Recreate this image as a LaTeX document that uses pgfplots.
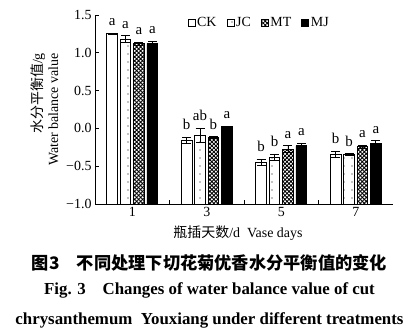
\documentclass[border=0pt]{standalone}
\usepackage{fontspec}
\setmainfont{Liberation Serif}
\newfontfamily\cjk{Noto Sans CJK SC}
\usepackage{pgfplots}
\usepackage{pgfplotstable}
\pgfplotsset{compat=1.18}
\usetikzlibrary{patterns.meta}
\pgfplotstableread{
day ck ckerr jc jcerr mt mterr mj mjerr
1  1.25 0.01  1.18 0.045  1.12 0.02  1.12 0.035
3 -0.16 0.045 -0.09 0.09  -0.12 0.01  0.02 0.01
5 -0.45 0.044 -0.385 0.045  -0.275 0.044 -0.23 0.037
7 -0.345 0.04 -0.35 0.013  -0.245 0.02 -0.20 0.037
}\data
\begin{document}
\begin{tikzpicture}
\begin{axis}[
  scale only axis, width=298bp, height=189bp,
  xmin=0, xmax=8, ymin=-1, ymax=1.5,
  y coord trafo/.code={\pgfmathparse{#1+1}},
  y coord inv trafo/.code={\pgfmathparse{#1-1}},
  axis lines*=left,
  axis line style={line width=0.8bp},
  clip=false,
  ytick={-1,-0.5,0,0.5,1,1.5},
  yticklabels={−1.0,−0.5,0.0,0.5,1.0,1.5},
  xtick={2,4,6}, xticklabels={},
  extra x ticks={1,3,5,7}, extra x tick labels={1,3,5,7},
  extra x tick style={major tick length=0pt},
  tick align=inside, major tick length=4bp,
  tick style={line width=0.8bp, black},
  tick label style={font=\fontsize{14}{16}\selectfont},
  xlabel={{\cjk 瓶插天数}/d\ \ Vase days},
  xlabel style={font=\fontsize{14}{16}\selectfont, yshift=-2bp, xshift=-6bp},
  ylabel={\fontsize{14}{16}\selectfont{\cjk 水分平衡值}/g\\\fontsize{14}{16}\selectfont Water balance value},
  ylabel style={align=right, font=\fontsize{14}{16}\selectfont, yshift=1bp},
  legend columns=4,
  legend style={draw=none, fill=none, at={(rel axis cs:0.31,1.0)}, anchor=north west,
    font=\fontsize{14}{16}\selectfont, inner sep=0pt,
    /tikz/every even column/.append style={column sep=8bp}},
  legend image code/.code={\draw[#1, draw=black, line width=0.6bp] (0bp,-3.5bp) rectangle (7bp,3.5bp);},
  every axis plot/.append style={ybar, bar width=0.29, draw=black, line width=0.9bp,
    error bars/y dir=both, error bars/y explicit,
    error bars/error bar style={line width=0.9bp, black},
    error bars/error mark options={rotate=90, mark size=4.5bp, line width=0.9bp, black}},
]
\addplot[bar shift=-0.54, fill=white, error bars/error bar style={xshift=-20.115bp}] table[x=day, y=ck, y error=ckerr] {\data};
\addplot[bar shift=-0.18, fill=white, postaction={pattern={Dots[distance=8bp, radius=0.6bp]}}, error bars/error bar style={xshift=-6.705bp}] table[x=day, y=jc, y error=jcerr] {\data};
\addplot[bar shift=0.18, fill=white, postaction={pattern={Hatch[angle=45, distance=2.8bp, line width=0.9bp]}}, error bars/error bar style={xshift=6.705bp}] table[x=day, y=mt, y error=mterr] {\data};
\addplot[bar shift=0.54, fill=black, error bars/error bar style={xshift=20.115bp}] table[x=day, y=mj, y error=mjerr] {\data};
\legend{CK,JC,MT,MJ}
\coordinate (O) at (rel axis cs:0,1);
\coordinate (B) at (rel axis cs:0,0);
\begin{scope}[every node/.style={anchor=base, yshift=7.5bp, font=\fontsize{15}{17}\selectfont}]
\node at (axis cs:0.46,1.26) {a};
\node at (axis cs:0.82,1.225) {a};
\node at (axis cs:1.18,1.14) {a};
\node at (axis cs:1.54,1.155) {a};
\node at (axis cs:2.46,-0.115) {b};
\node at (axis cs:2.82,0.0) {ab};
\node at (axis cs:3.18,-0.11) {b};
\node at (axis cs:3.54,0.03) {a};
\node at (axis cs:4.46,-0.406) {b};
\node at (axis cs:4.82,-0.34) {b};
\node at (axis cs:5.18,-0.231) {a};
\node at (axis cs:5.54,-0.193) {a};
\node at (axis cs:6.46,-0.305) {b};
\node at (axis cs:6.82,-0.337) {b};
\node at (axis cs:7.18,-0.225) {a};
\node at (axis cs:7.54,-0.163) {a};
\end{scope}
\end{axis}
\node[anchor=base, font=\fontsize{17.3}{19}\selectfont\bfseries\cjk] at ([xshift=114.5bp, yshift=-65bp]B) {图3\quad 不同处理下切花菊优香水分平衡值的变化};
\node[anchor=base, font=\fontsize{16.9}{18}\selectfont\bfseries] at ([xshift=114.5bp, yshift=-90bp]B) {Fig. 3\quad Changes of water balance value of cut};
\node[anchor=base, font=\fontsize{16.9}{18}\selectfont\bfseries] at ([xshift=114.5bp, yshift=-120bp]B) {chrysanthemum\ \ Youxiang under different treatments};
\pgfresetboundingbox
\path[use as bounding box] ([xshift=-95bp, yshift=15bp]O) rectangle ++(419bp,-334bp);
\end{tikzpicture}
\end{document}
